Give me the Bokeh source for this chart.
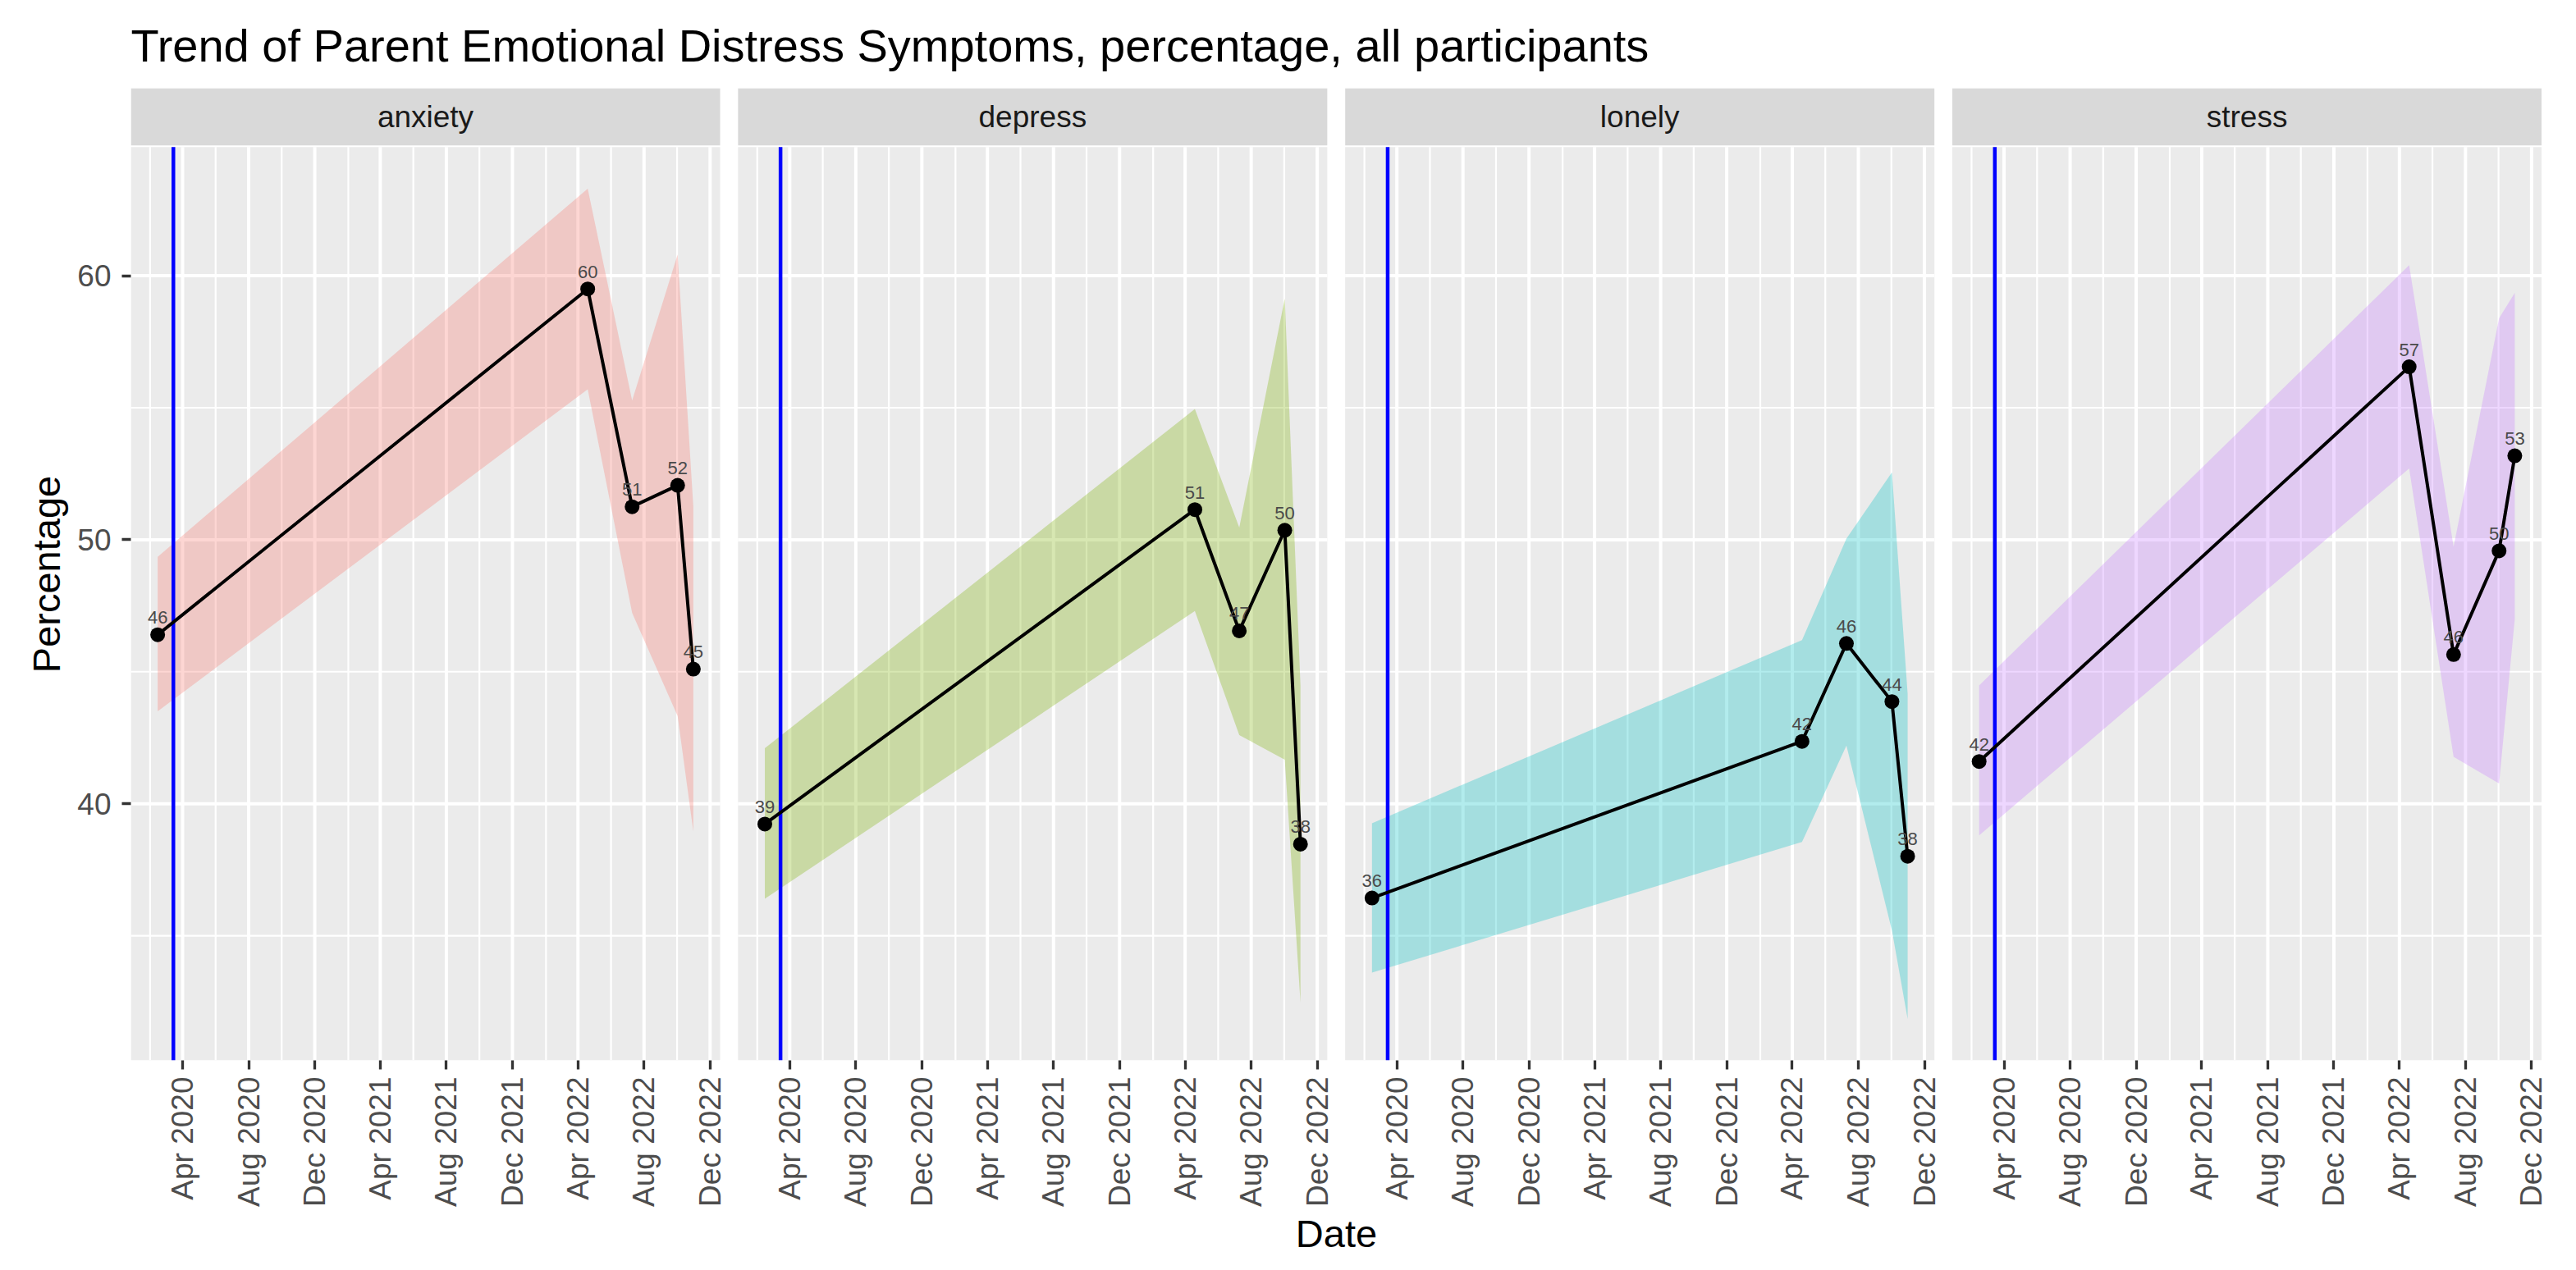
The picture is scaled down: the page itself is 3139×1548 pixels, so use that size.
import math
import numpy as np
from bokeh.plotting import figure
from bokeh.models import ColumnDataSource, FixedTicker, Range1d
from bokeh.embed import file_html
from bokeh.resources import INLINE
from bokeh.core.properties import value

# ---------------- data ----------------
title_text = "Trend of Parent Emotional Distress Symptoms, percentage, all participants"
dates = ["2020-02-15", "2022-04-19", "2022-07-10", "2022-10-02", "2022-10-31"]
symptoms = ["anxiety", "depress", "lonely", "stress"]
colors = ["#F8766D", "#7CAE00", "#00BFC4", "#C77CFF"]

anxiety = [46.4, 59.5, 51.25, 52.06, 45.1]
anxiety_lo = [43.5, 55.7, 47.23, 43.32, 38.95]
anxiety_hi = [49.35, 63.3, 55.27, 60.8, 51.25]

depress = [39.23, 51.14, 46.55, 50.36, 38.47]
depress_lo = [36.4, 47.3, 42.6, 41.67, 32.47]
depress_hi = [42.1, 54.95, 50.46, 59.14, 44.47]

lonely = [36.43, 42.36, 46.07, 43.87, 38.01]
lonely_lo = [33.6, 38.55, 42.2, 35.2, 31.85]
lonely_hi = [39.26, 46.2, 50.04, 52.55, 44.17]

stress = [41.6, 56.55, 45.65, 49.58, 53.18]
stress_lo = [38.8, 52.7, 41.78, 40.77, 47.0]
stress_hi = [44.48, 60.4, 49.73, 58.39, 59.35]

event_date = "2020-03-15"

tick_dates = ["2020-04-01", "2020-08-01", "2020-12-01", "2021-04-01", "2021-08-01",
              "2021-12-01", "2022-04-01", "2022-08-01", "2022-12-01"]
tick_labels = ["Apr 2020", "Aug 2020", "Dec 2020", "Apr 2021", "Aug 2021",
               "Dec 2021", "Apr 2022", "Aug 2022", "Dec 2022"]
minor_dates = ["2020-02-01", "2020-06-01", "2020-10-01", "2021-02-01", "2021-06-01",
               "2021-10-01", "2022-02-01", "2022-06-01", "2022-10-01"]
y_major = [40, 50, 60]
y_minor = [35, 45, 55]

values = [anxiety, depress, lonely, stress]
lows = [anxiety_lo, depress_lo, lonely_lo, stress_lo]
highs = [anxiety_hi, depress_hi, lonely_hi, stress_hi]

# ---------------- layout (pixels) ----------------
FIG_W, FIG_H = 3123, 1532
FRAME_L = 159
PANEL_W, GAP = 718, 22
FRAME_W = 4 * PANEL_W + 3 * GAP
FRAME_T = 107
STRIP_H, STRIP_GAP = 70, 2
PANEL_H = 1116
FRAME_H = STRIP_H + STRIP_GAP + PANEL_H
FRAME_R_BORDER = FIG_W - FRAME_L - FRAME_W
FRAME_B_BORDER = FIG_H - FRAME_T - FRAME_H

FONT = "Liberation Sans"


def days(s):
    return int((np.datetime64(s) - np.datetime64("1970-01-01")).astype(int))


d = [days(s) for s in dates]
dmin, dmax = min(d), max(d)
xr = dmax - dmin
xlo, xhi = dmin - 0.05 * xr, dmax + 0.05 * xr
span = xhi - xlo
ppx = PANEL_W / span
offset = int(round(span + GAP / ppx))

all_lo = min(min(v) for v in lows)
all_hi = max(max(v) for v in highs)
yr = all_hi - all_lo
ylo, yhi = all_lo - 0.05 * yr, all_hi + 0.05 * yr
ppu = PANEL_H / (yhi - ylo)
y_top = ylo + FRAME_H / ppu
strip_bot = yhi + STRIP_GAP / ppu

p = figure(width=FIG_W, height=FIG_H, output_backend="svg", toolbar_location=None,
           x_range=Range1d(xlo, xlo + FRAME_W / ppx), y_range=Range1d(ylo, y_top),
           min_border_left=FRAME_L, min_border_right=FRAME_R_BORDER,
           min_border_top=FRAME_T, min_border_bottom=FRAME_B_BORDER,
           background_fill_color="white", border_fill_color="white",
           outline_line_color=None)
p.xgrid.visible = False
p.ygrid.visible = False

p.title.text = title_text
p.title.text_font = FONT
p.title.text_font_size = "56px"
p.title.text_font_style = "normal"
p.title.text_color = "black"
p.title.standoff = 42

# panel backgrounds & strips
lefts = [xlo + k * offset for k in range(4)]
rights = [l + span for l in lefts]
p.quad(left=lefts, right=rights, bottom=ylo, top=yhi, fill_color="#EBEBEB", line_color=None)
p.quad(left=lefts, right=rights, bottom=strip_bot, top=y_top, fill_color="#D9D9D9", line_color=None)
p.text(x=[(l + r) / 2 for l, r in zip(lefts, rights)], y=(strip_bot + y_top) / 2, text=symptoms,
       text_font=value(FONT), text_font_size="37px", text_color="#1A1A1A",
       text_align="center", text_baseline="middle")

# grid lines
tick_d = [days(s) for s in tick_dates]
minor_d = [days(s) for s in minor_dates]
for ylist, w in ((y_minor, 2.2), (y_major, 4.0)):
    x0, x1, yy = [], [], []
    for l, r in zip(lefts, rights):
        for yv in ylist:
            x0.append(l); x1.append(r); yy.append(yv)
    p.segment(x0=x0, y0=yy, x1=x1, y1=yy, line_color="white", line_width=w)
for dlist, w in ((minor_d, 2.2), (tick_d, 4.0)):
    xx = [l - xlo + t for l in lefts for t in dlist if xlo <= t <= xhi]
    p.segment(x0=xx, y0=ylo, x1=xx, y1=yhi, line_color="white", line_width=w)

# data
ev = days(event_date)
for k, name in enumerate(symptoms):
    xs = [lefts[k] - xlo + t for t in d]
    src = ColumnDataSource(dict(x=xs, y=values[k], lo=lows[k], hi=highs[k],
                                lab=[str(int(round(v))) for v in values[k]]))
    p.varea(x="x", y1="lo", y2="hi", source=src, fill_color=colors[k], fill_alpha=0.3)
    p.segment(x0=lefts[k] - xlo + ev, y0=ylo, x1=lefts[k] - xlo + ev, y1=yhi,
              line_color="#0000FF", line_width=4.5)
    p.line(x="x", y="y", source=src, line_color="black", line_width=4)
    p.scatter(x="x", y="y", source=src, size=18, fill_color="black", line_color=None)
    p.text(x="x", y="y", text="lab", source=src, text_font=value(FONT), text_font_size="22px",
           text_color="#4A4A4A", text_align="center", text_baseline="alphabetic", y_offset=-21)

# axes
xt = [l - xlo + t for l in lefts for t in tick_d]
p.xaxis.ticker = FixedTicker(ticks=xt)
p.xaxis.major_label_overrides = {x: lab for x, lab in zip(xt, tick_labels * 4)}
p.xaxis.major_label_orientation = math.pi / 2
p.xaxis.axis_label = "Date"
p.yaxis.ticker = FixedTicker(ticks=y_major)
p.yaxis.axis_label = "Percentage"
for ax in (p.xaxis[0], p.yaxis[0]):
    ax.axis_line_color = None
    ax.minor_tick_line_color = None
    ax.major_tick_line_color = "#333333"
    ax.major_tick_line_width = 3.3
    ax.major_tick_out = 11
    ax.major_tick_in = 0
    ax.major_label_text_font = FONT
    ax.major_label_text_font_size = "37px"
    ax.major_label_text_color = "#4D4D4D"
    ax.axis_label_text_font = FONT
    ax.axis_label_text_font_size = "47px"
    ax.axis_label_text_font_style = "normal"
    ax.axis_label_text_color = "black"
p.yaxis.major_label_standoff = 13
p.xaxis.major_label_standoff = 9
p.yaxis.axis_label_standoff = 8
p.xaxis.axis_label_standoff = 3

open("out.html", "w").write(file_html(p, INLINE))
